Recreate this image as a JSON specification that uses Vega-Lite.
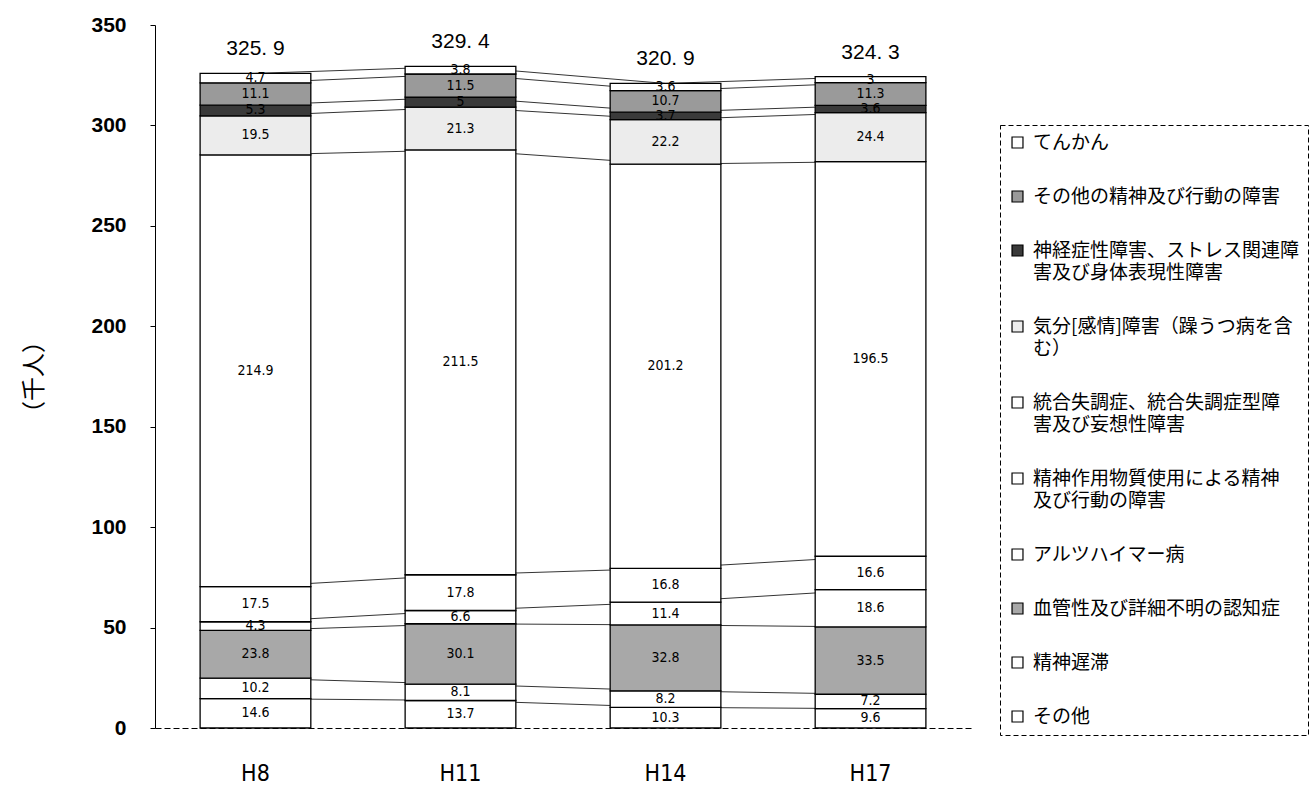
{
  "$schema": "https://vega.github.io/schema/vega-lite/v6.json",
  "width": 816,
  "height": 703,
  "autosize": "none",
  "padding": {"left": 155, "top": 25, "right": 340, "bottom": 66},
  "background": "white",
  "config": {"view": {"stroke": null}},
  "datasets": {
    "seg": [
      {"year": "H8", "cat": "その他", "order": 1, "value": 14.6},
      {"year": "H8", "cat": "精神遅滞", "order": 2, "value": 10.2},
      {"year": "H8", "cat": "血管性及び詳細不明の認知症", "order": 3, "value": 23.8},
      {"year": "H8", "cat": "アルツハイマー病", "order": 4, "value": 4.3},
      {"year": "H8", "cat": "精神作用物質使用による精神|及び行動の障害", "order": 5, "value": 17.5},
      {"year": "H8", "cat": "統合失調症、統合失調症型障|害及び妄想性障害", "order": 6, "value": 214.9},
      {"year": "H8", "cat": "気分[感情]障害（躁うつ病を含|む）", "order": 7, "value": 19.5},
      {"year": "H8", "cat": "神経症性障害、ストレス関連障|害及び身体表現性障害", "order": 8, "value": 5.3},
      {"year": "H8", "cat": "その他の精神及び行動の障害", "order": 9, "value": 11.1},
      {"year": "H8", "cat": "てんかん", "order": 10, "value": 4.7},
      {"year": "H11", "cat": "その他", "order": 1, "value": 13.7},
      {"year": "H11", "cat": "精神遅滞", "order": 2, "value": 8.1},
      {"year": "H11", "cat": "血管性及び詳細不明の認知症", "order": 3, "value": 30.1},
      {"year": "H11", "cat": "アルツハイマー病", "order": 4, "value": 6.6},
      {"year": "H11", "cat": "精神作用物質使用による精神|及び行動の障害", "order": 5, "value": 17.8},
      {"year": "H11", "cat": "統合失調症、統合失調症型障|害及び妄想性障害", "order": 6, "value": 211.5},
      {"year": "H11", "cat": "気分[感情]障害（躁うつ病を含|む）", "order": 7, "value": 21.3},
      {"year": "H11", "cat": "神経症性障害、ストレス関連障|害及び身体表現性障害", "order": 8, "value": 5},
      {"year": "H11", "cat": "その他の精神及び行動の障害", "order": 9, "value": 11.5},
      {"year": "H11", "cat": "てんかん", "order": 10, "value": 3.8},
      {"year": "H14", "cat": "その他", "order": 1, "value": 10.3},
      {"year": "H14", "cat": "精神遅滞", "order": 2, "value": 8.2},
      {"year": "H14", "cat": "血管性及び詳細不明の認知症", "order": 3, "value": 32.8},
      {"year": "H14", "cat": "アルツハイマー病", "order": 4, "value": 11.4},
      {"year": "H14", "cat": "精神作用物質使用による精神|及び行動の障害", "order": 5, "value": 16.8},
      {"year": "H14", "cat": "統合失調症、統合失調症型障|害及び妄想性障害", "order": 6, "value": 201.2},
      {"year": "H14", "cat": "気分[感情]障害（躁うつ病を含|む）", "order": 7, "value": 22.2},
      {"year": "H14", "cat": "神経症性障害、ストレス関連障|害及び身体表現性障害", "order": 8, "value": 3.7},
      {"year": "H14", "cat": "その他の精神及び行動の障害", "order": 9, "value": 10.7},
      {"year": "H14", "cat": "てんかん", "order": 10, "value": 3.6},
      {"year": "H17", "cat": "その他", "order": 1, "value": 9.6},
      {"year": "H17", "cat": "精神遅滞", "order": 2, "value": 7.2},
      {"year": "H17", "cat": "血管性及び詳細不明の認知症", "order": 3, "value": 33.5},
      {"year": "H17", "cat": "アルツハイマー病", "order": 4, "value": 18.6},
      {"year": "H17", "cat": "精神作用物質使用による精神|及び行動の障害", "order": 5, "value": 16.6},
      {"year": "H17", "cat": "統合失調症、統合失調症型障|害及び妄想性障害", "order": 6, "value": 196.5},
      {"year": "H17", "cat": "気分[感情]障害（躁うつ病を含|む）", "order": 7, "value": 24.4},
      {"year": "H17", "cat": "神経症性障害、ストレス関連障|害及び身体表現性障害", "order": 8, "value": 3.6},
      {"year": "H17", "cat": "その他の精神及び行動の障害", "order": 9, "value": 11.3},
      {"year": "H17", "cat": "てんかん", "order": 10, "value": 3}
    ],
    "totals": [
      {"year": "H8", "total": 325.9, "label": "325. 9"},
      {"year": "H11", "total": 329.4, "label": "329. 4"},
      {"year": "H14", "total": 320.9, "label": "320. 9"},
      {"year": "H17", "total": 324.3, "label": "324. 3"}
    ]
  },
  "encoding": {
    "x": {
      "field": "year",
      "type": "nominal",
      "sort": ["H8", "H11", "H14", "H17"],
      "scale": {"paddingInner": 0.46, "paddingOuter": 0.22},
      "axis": {
        "title": null,
        "labelAngle": 0,
        "labelFont": "'DejaVu Sans Condensed', 'Liberation Sans', sans-serif",
        "labelFontSize": 23,
        "labelColor": "black",
        "labelPadding": 34,
        "ticks": false,
        "domainColor": "black",
        "domainWidth": 1,
        "domainDash": [6, 3]
      }
    }
  },
  "layer": [
    {
      "data": {"name": "seg"},
      "transform": [
        {"stack": "value", "groupby": ["year"], "sort": [{"field": "order", "order": "ascending"}], "as": ["y0", "y1"]}
      ],
      "mark": {"type": "line", "color": "black", "strokeWidth": 0.8},
      "encoding": {
        "y": {
          "field": "y1",
          "type": "quantitative",
          "scale": {"domain": [0, 350], "nice": false},
          "axis": {
            "title": "（千人）",
            "titleFont": "Noto Sans CJK JP",
            "titleFontSize": 24,
            "titleFontWeight": "normal",
            "titleColor": "black",
            "titlePadding": 44,
            "values": [0, 50, 100, 150, 200, 250, 300, 350],
            "labelFont": "Liberation Sans",
            "labelFontSize": 21,
            "labelFontWeight": "bold",
            "labelColor": "black",
            "labelPadding": 24,
            "tickSize": 5,
            "tickColor": "black",
            "domainColor": "black",
            "grid": false
          }
        },
        "detail": {"field": "cat"}
      }
    },
    {
      "data": {"name": "seg"},
      "transform": [
        {"stack": "value", "groupby": ["year"], "sort": [{"field": "order", "order": "ascending"}], "as": ["y0", "y1"]}
      ],
      "mark": {"type": "bar", "stroke": "black", "strokeWidth": 1.3},
      "encoding": {
        "y": {"field": "y0", "type": "quantitative"},
        "y2": {"field": "y1"},
        "fill": {
          "field": "cat",
          "type": "nominal",
          "scale": {
            "domain": [
              "てんかん",
              "その他の精神及び行動の障害",
              "神経症性障害、ストレス関連障|害及び身体表現性障害",
              "気分[感情]障害（躁うつ病を含|む）",
              "統合失調症、統合失調症型障|害及び妄想性障害",
              "精神作用物質使用による精神|及び行動の障害",
              "アルツハイマー病",
              "血管性及び詳細不明の認知症",
              "精神遅滞",
              "その他"
            ],
            "range": ["#ffffff", "#9a9a9a", "#3a3a3a", "#ececec", "#ffffff", "#ffffff", "#ffffff", "#a8a8a8", "#ffffff", "#ffffff"]
          },
          "legend": {
            "title": null,
            "orient": "none",
            "legendX": 845,
            "legendY": 100,
            "symbolType": "square",
            "symbolSize": 120,
            "symbolStrokeColor": "black",
            "symbolStrokeWidth": 1.2,
            "labelFont": "Noto Sans CJK JP",
            "labelFontSize": 19,
            "labelColor": "black",
            "labelLimit": 400,
            "labelOffset": 6,
            "labelExpr": "split(datum.label, '|')",
            "rowPadding": 34,
            "padding": 8,
            "strokeColor": "black",
            "encode": {
              "legend": {"update": {"strokeDash": {"value": [5, 3]}, "strokeWidth": {"value": 1}}},
              "labels": {"update": {"lineHeight": {"value": 22}}}
            }
          }
        }
      }
    },
    {
      "data": {"name": "seg"},
      "transform": [
        {"stack": "value", "groupby": ["year"], "sort": [{"field": "order", "order": "ascending"}], "as": ["y0", "y1"]},
        {"calculate": "(datum.y0 + datum.y1) / 2", "as": "mid"}
      ],
      "mark": {"type": "text", "font": "'DejaVu Sans Condensed', 'Liberation Sans', sans-serif", "fontSize": 14, "color": "black", "baseline": "middle"},
      "encoding": {
        "y": {"field": "mid", "type": "quantitative"},
        "text": {"field": "value", "type": "quantitative"}
      }
    },
    {
      "data": {"name": "totals"},
      "mark": {"type": "text", "font": "Liberation Sans", "fontSize": 21, "color": "black", "baseline": "bottom", "dy": -14},
      "encoding": {
        "y": {"field": "total", "type": "quantitative"},
        "text": {"field": "label", "type": "nominal"}
      }
    }
  ]
}
